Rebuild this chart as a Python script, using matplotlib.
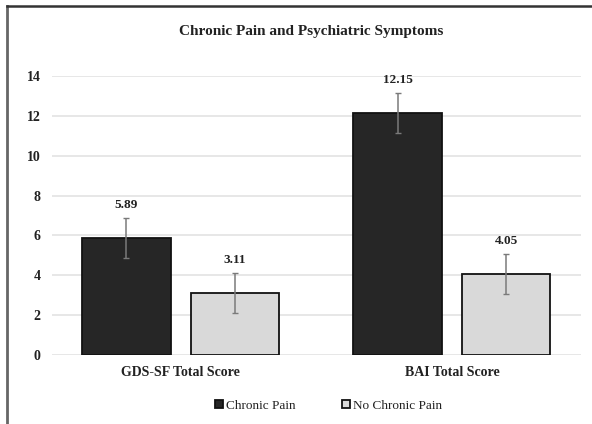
import matplotlib
matplotlib.use("Agg")
import matplotlib.pyplot as plt
from matplotlib.lines import Line2D
import numpy as np

categories = ["GDS-SF Total Score", "BAI Total Score"]
series_names = ["Chronic Pain", "No Chronic Pain"]
chronic_pain = [5.89, 12.15]
no_chronic_pain = [3.11, 4.05]
chronic_err = [1.0, 1.0]
no_chronic_err = [1.0, 1.0]
yticks = [0, 2, 4, 6, 8, 10, 12, 14]

plt.rcParams['font.family'] = ['Liberation Serif', 'DejaVu Serif']

fig = plt.figure(figsize=(5.92, 4.24), dpi=100)
ax = fig.add_axes([0.0878, 0.1627, 0.8932, 0.6581])

x = np.arange(len(categories))
w = 0.326
off = 0.2
series = [(chronic_pain, chronic_err, "#262626"), (no_chronic_pain, no_chronic_err, "#d9d9d9")]
for i, (vals, errs, col) in enumerate(series):
    pos = x + (-off if i == 0 else off)
    ax.bar(pos, vals, width=w, color=col, edgecolor="#111111", linewidth=1.3,
           label=series_names[i], zorder=3)
    ax.errorbar(pos, vals, yerr=errs, fmt="none", ecolor="#7a7a7a", elinewidth=1.1,
                capsize=2.5, capthick=1.0, zorder=4)
    for p, v, e in zip(pos, vals, errs):
        ax.text(p, v + e + 0.35, f"{v:.2f}", ha="center", va="bottom",
                fontsize=9.5, fontweight="bold", color="#222222")

ax.set_xlim(-0.474, 1.475)
ax.set_ylim(0, 14)
ax.set_yticks(yticks)
ax.set_yticklabels([str(t) for t in yticks], fontsize=10, fontweight="bold", color="#222222")
ax.set_xticks(x)
ax.set_xticklabels(categories, fontsize=10, fontweight="bold", color="#222222")
ax.tick_params(axis="both", length=0)
ax.tick_params(axis="y", pad=8)
ax.tick_params(axis="x", pad=8)
ax.yaxis.grid(True, color="#e3e3e3", linewidth=1.2, zorder=0)
ax.set_axisbelow(True)
for s in ax.spines.values():
    s.set_visible(False)

fig.text(0.526, 0.925, "Chronic Pain and Psychiatric Symptoms", ha="center", va="center",
         fontsize=11, fontweight="bold", color="#222222")

leg = fig.legend(loc="center", bbox_to_anchor=(0.555, 0.043), ncol=2, frameon=False,
                 handlelength=0.6, handleheight=0.6, handletextpad=0.25, columnspacing=3.5,
                 fontsize=9.5)
for t in leg.get_texts():
    t.set_color("#222222")

# frame lines at left and top
fig.add_artist(Line2D([0.0115, 0.0115], [0, 0.985], transform=fig.transFigure,
                      color="#666666", linewidth=2.0))
fig.add_artist(Line2D([0.0115, 1.0], [0.985, 0.985], transform=fig.transFigure,
                      color="#333333", linewidth=1.8))

fig.savefig("out.png", dpi=100)
